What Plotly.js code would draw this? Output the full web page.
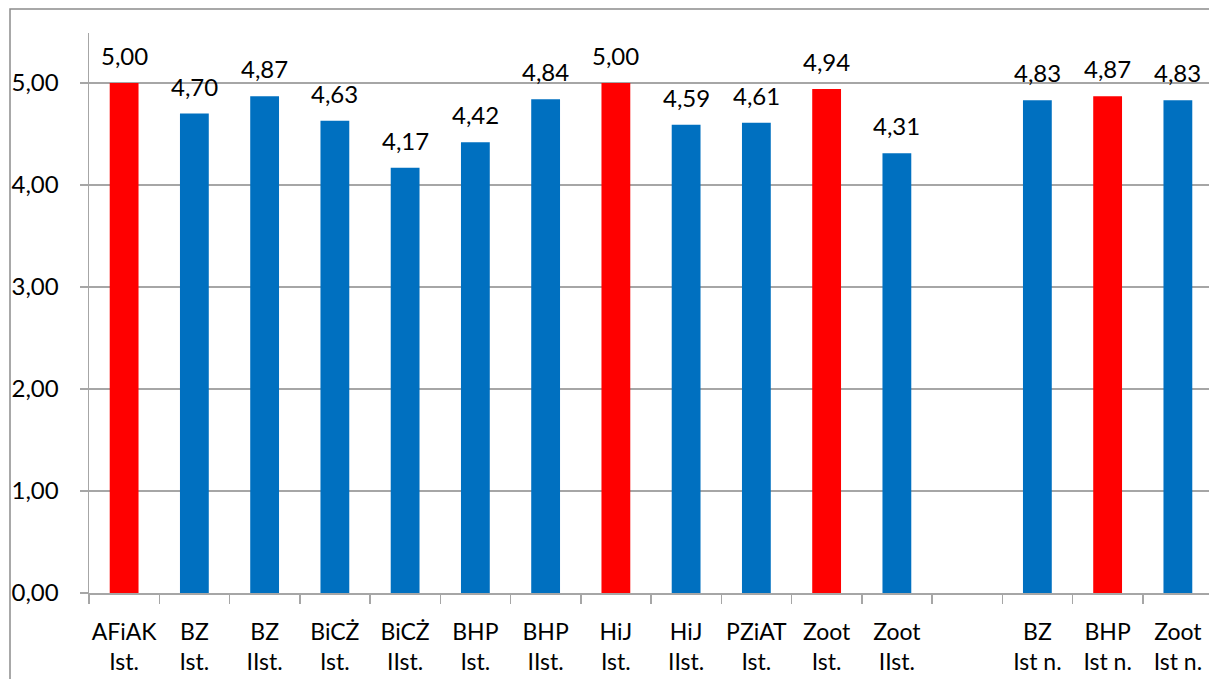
<!DOCTYPE html>
<html>
<head>
<meta charset="utf-8">
<script src="https://cdn.plot.ly/plotly-3.0.1.min.js"></script>
<style>html,body{margin:0;padding:0;background:#fff;}#chart{width:1209px;height:679px;}</style>
</head>
<body>
<div id="chart"></div>
<script>
const categories = ["AFiAK<br>Ist.","BZ<br>Ist.","BZ<br>IIst.","BiCŻ<br>Ist.","BiCŻ<br>IIst.","BHP<br>Ist.","BHP<br>IIst.","HiJ<br>Ist.","HiJ<br>IIst.","PZiAT<br>Ist.","Zoot<br>Ist.","Zoot<br>IIst."," ","BZ<br>Ist n.","BHP<br>Ist n.","Zoot<br>Ist n."];
const values = [5.00,4.70,4.87,4.63,4.17,4.42,4.84,5.00,4.59,4.61,4.94,4.31,null,4.83,4.87,4.83];
const highlighted = [true,false,false,false,false,false,false,true,false,false,true,false,false,false,true,false];
const yTicks = [0,1,2,3,4,5];

const RED = "#FF0000", BLUE = "#0070C0";
const FONT = "Lato, 'Open Sans', sans-serif";
const colors = highlighted.map(h => h ? RED : BLUE);

const annotations = [];
categories.forEach((c,i) => {
  if (values[i] === null) return;
  annotations.push({
    x: c, y: values[i], xref: "x", yref: "y",
    text: values[i].toFixed(2).replace(".", ","),
    showarrow: false, yanchor: "bottom", yshift: 11,
    font: {family: FONT, size: 24, color: "#000"}
  });
});

const trace = {
  type: "bar", x: categories, y: values,
  marker: {color: colors},
  width: 0.41, hoverinfo: "none"
};

const L = 89, T = 33, W = 1120, H = 560;
const px = v => (v - L) / W;
const py = v => (T + H - v) / H;

const layout = {
  width: 1209, height: 679,
  margin: {l: L, r: 0, t: T, b: 679 - T - H, pad: 0},
  paper_bgcolor: "#fff", plot_bgcolor: "#fff",
  separators: ", ",
  showlegend: false,
  font: {family: FONT, size: 23, color: "#000"},
  xaxis: {
    type: "category",
    range: [-0.5, -0.5 + W / 70.25],
    showline: true, linecolor: "#A6A6A6", linewidth: 1.5,
    ticks: "outside", tickson: "boundaries", ticklen: 9, tickcolor: "#A6A6A6", tickwidth: 1.5,
    tickangle: 0, automargin: false, ticklabelstandoff: 18,
    showgrid: false, zeroline: false,
    tickfont: {family: FONT, size: 23, color: "#000"},
    fixedrange: true
  },
  yaxis: {
    range: [0, 5.49],
    tickvals: yTicks, tickformat: ".2f",
    showline: true, linecolor: "#A6A6A6", linewidth: 1.5,
    ticks: "outside", ticklen: 8, tickcolor: "#A6A6A6", tickwidth: 1.5,
    ticklabelstandoff: 16, automargin: false,
    showgrid: true, gridcolor: "#A6A6A6", gridwidth: 1.5,
    zeroline: false,
    tickfont: {family: FONT, size: 24, color: "#000"},
    fixedrange: true
  },
  annotations: annotations,
  shapes: [{
    type: "path", xref: "paper", yref: "paper",
    path: `M ${px(10)} ${py(679)} L ${px(10)} ${py(9)} L ${px(1209)} ${py(9)}`,
    line: {color: "#8C8C8C", width: 1.5}
  }]
};

Plotly.newPlot("chart", [trace], layout, {displayModeBar: false, staticPlot: true});
</script>
</body>
</html>
